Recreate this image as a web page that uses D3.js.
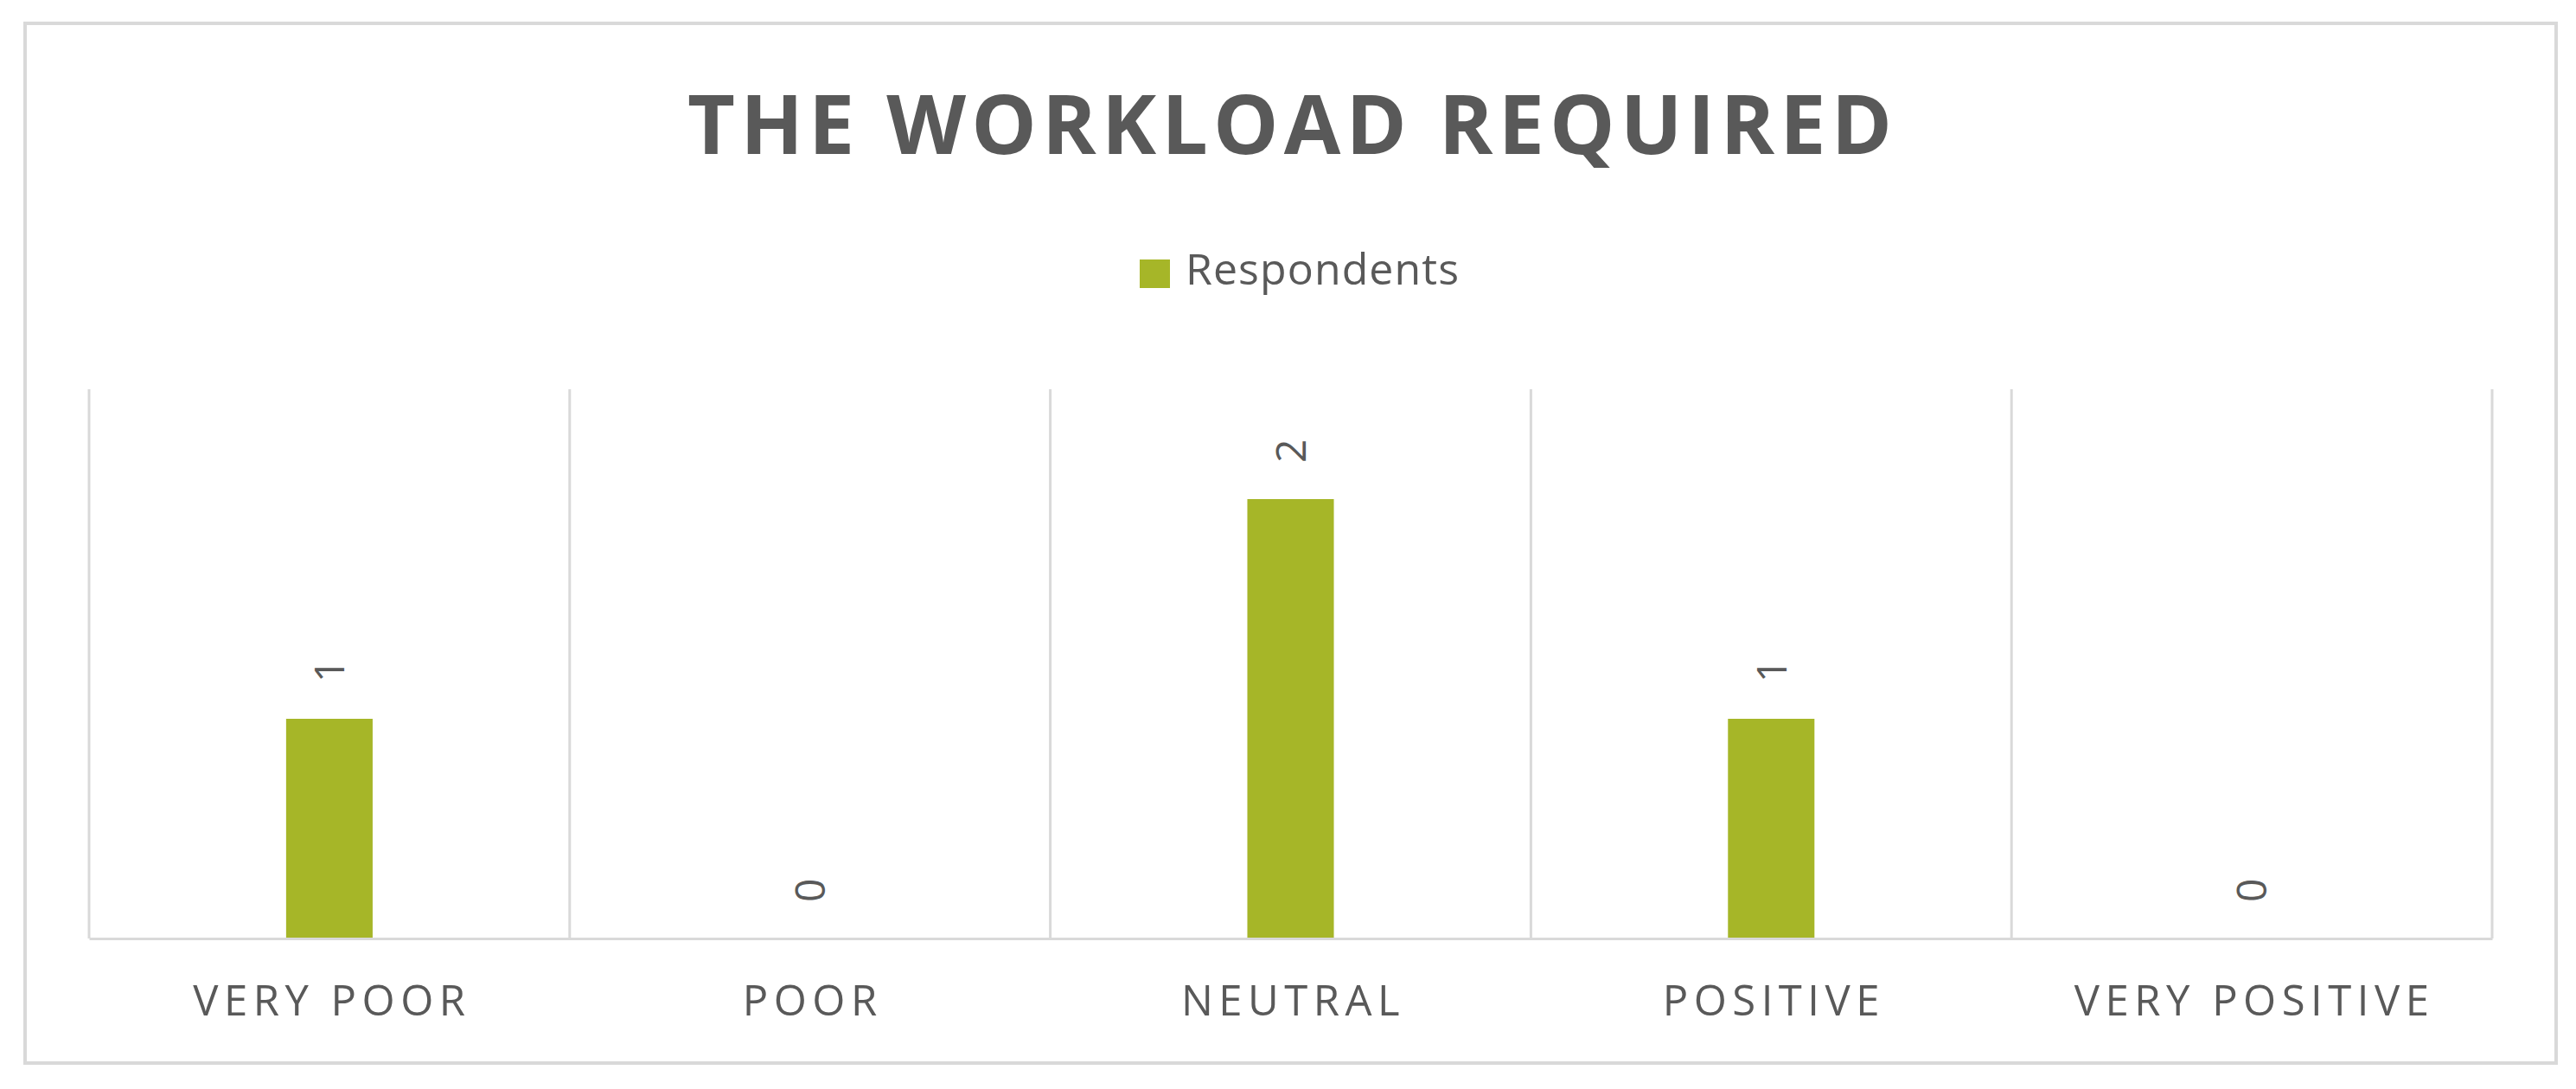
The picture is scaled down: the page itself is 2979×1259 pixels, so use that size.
<!DOCTYPE html>
<html>
<head>
<meta charset="utf-8">
<script src="https://cdn.jsdelivr.net/npm/d3@7"></script>
<style>
  html, body { margin: 0; padding: 0; background: #ffffff; }
  svg { display: block; }
</style>
</head>
<body>
<svg id="chart" width="2979" height="1259"></svg>
<script>
const title = "THE WORKLOAD REQUIRED";
const seriesName = "Respondents";
const categories = ["VERY POOR", "POOR", "NEUTRAL", "POSITIVE", "VERY POSITIVE"];
const values = [1, 0, 2, 1, 0];
const yDomain = [0, 2.5];

const W = 2979, H = 1259;
const plot = { left: 103, right: 2882, top: 450, bottom: 1085 };
const barColor = "#a6b628";
const textColor = "#595959";
const gridColor = "#d9d9d9";
const font = "'Open Sans', 'Noto Sans', sans-serif";

const svg = d3.select("#chart");

// outer border
svg.append("rect")
  .attr("x", 29).attr("y", 27)
  .attr("width", 2956 - 29).attr("height", 1229 - 27)
  .attr("fill", "#ffffff")
  .attr("stroke", gridColor).attr("stroke-width", 4);

// title
const t = svg.append("text")
  .attr("x", W / 2 + 2).attr("y", 178)
  .attr("text-anchor", "middle")
  .attr("font-family", font).attr("font-weight", 700)
  .attr("font-size", 95).attr("fill", textColor)
  .text(title);
{
  const natural = t.node().getComputedTextLength();
  const target = 1393;
  const ls = (target - natural) / (title.length - 1);
  t.attr("letter-spacing", ls).attr("x", W / 2 + 2 + ls / 2);
}

// legend
const lg = svg.append("g");
lg.append("rect").attr("x", 1318).attr("y", 300).attr("width", 35).attr("height", 33).attr("fill", barColor);
const lt = lg.append("text")
  .attr("x", 1371).attr("y", 329)
  .attr("font-family", font).attr("font-size", 50).attr("fill", textColor)
  .text(seriesName);
{
  const natural = lt.node().getComputedTextLength();
  const target = 316;
  lt.attr("letter-spacing", (target - natural) / (seriesName.length - 1));
}

const x = d3.scaleBand().domain(categories).range([plot.left, plot.right]).padding(0);
const y = d3.scaleLinear().domain(yDomain).range([plot.bottom, plot.top]);
const barW = x.bandwidth() * 0.18;

// vertical gridlines at category boundaries
const bounds = categories.map(c => x(c)).concat([x(categories[categories.length - 1]) + x.bandwidth()]);
svg.append("g").selectAll("line").data(bounds).join("line")
  .attr("x1", d => d).attr("x2", d => d)
  .attr("y1", y(yDomain[1])).attr("y2", y(0))
  .attr("stroke", gridColor).attr("stroke-width", 3);

// bars
svg.append("g").selectAll("rect").data(values).join("rect")
  .attr("x", (d, i) => x(categories[i]) + x.bandwidth() / 2 - barW / 2)
  .attr("y", d => y(d))
  .attr("width", barW)
  .attr("height", d => y(0) - y(d))
  .attr("fill", barColor);

// baseline axis
const xAxis = d3.axisBottom(x).tickSize(0).tickPadding(60);
const ax = svg.append("g").attr("transform", `translate(0,${y(0)})`).call(xAxis);
ax.select(".domain").attr("stroke", gridColor).attr("stroke-width", 3);
ax.selectAll(".tick text")
  .attr("font-family", font).attr("font-size", 49).attr("fill", textColor)
  .attr("letter-spacing", 6.5)
  .attr("dy", "0.6em")
  .attr("dx", 3);

// data labels (rotated)
svg.append("g").selectAll("text").data(values).join("text")
  .attr("transform", (d, i) => `translate(${x(categories[i]) + x.bandwidth() / 2},${y(d) - 42}) rotate(-90)`)
  .attr("text-anchor", "start")
  .attr("dy", "0.36em")
  .attr("font-family", font).attr("font-size", 48).attr("fill", textColor)
  .text(d => d);
</script>
</body>
</html>
